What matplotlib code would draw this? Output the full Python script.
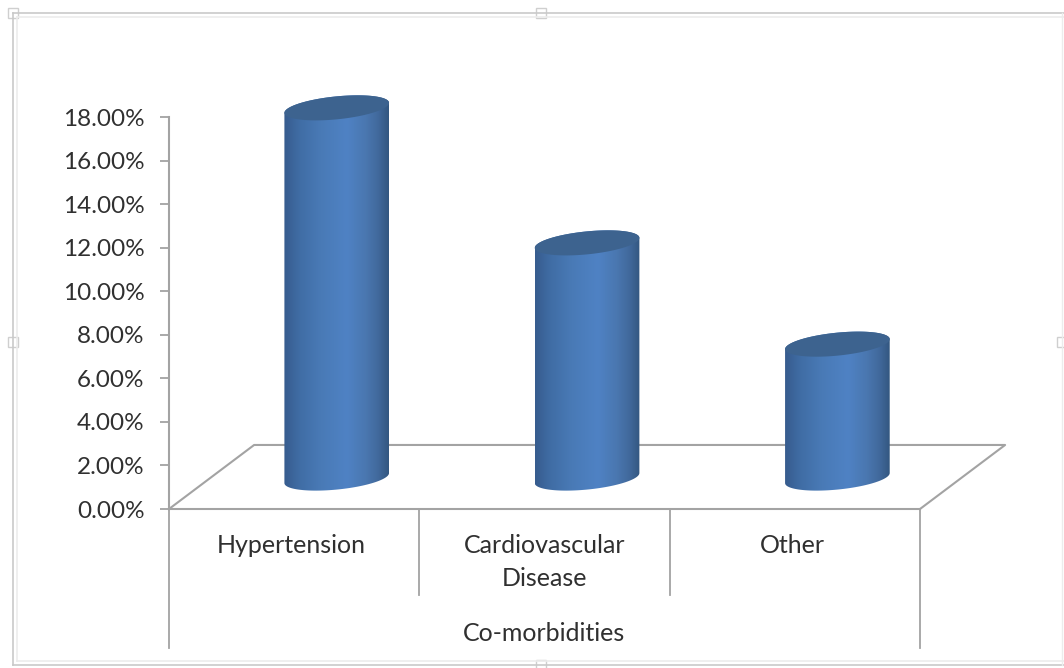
import numpy as np
import matplotlib
matplotlib.use('Agg')
import matplotlib.pyplot as plt
from matplotlib.colors import LinearSegmentedColormap
from matplotlib.lines import Line2D
from matplotlib.patches import PathPatch, Rectangle
from matplotlib.path import Path

# Chart values
categories = ['Hypertension', 'Cardiovascular\nDisease', 'Other']
values = [17.0, 10.8, 6.15]
y_ticks = [0, 2, 4, 6, 8, 10, 12, 14, 16, 18]
y_tick_labels = ['0.00%', '2.00%', '4.00%', '6.00%', '8.00%', '10.00%',
                 '12.00%', '14.00%', '16.00%', '18.00%']
axis_title = 'Co-morbidities'

W, H = 1064, 668
GREY = '#a3a3a3'
TEXT = '#303030'
FS = 18
plt.rcParams['font.family'] = ['Lato', 'DejaVu Sans']

fig = plt.figure(figsize=(W / 100, H / 100), dpi=100)
ax = fig.add_axes([169 / W, 1 - 509 / H, (920 - 169) / W, (509 - 117) / H])
ax.patch.set_alpha(0)

# fake 3d geometry, in data units
depth_x, depth_y = 0.34, 2.94
bar_shift = 0.17      # cylinders sit towards the back of the floor
base_y = 1.42
rx, ry, skew = 0.209, 0.528, 0.23

body_cmap = LinearSegmentedColormap.from_list('body', [
    (0.0, '#375c8e'), (0.15, '#406da5'), (0.35, '#497ab6'), (0.6, '#4f82c4'),
    (0.78, '#4a77b0'), (0.9, '#41699c'), (1.0, '#335780')])


def ellipse(cx, cy, t):
    return cx + rx * np.cos(t), cy + ry * np.sin(t) + skew * np.cos(t)


def draw_cylinder(cx, top):
    # side: round the front of the base, then back over the top rim
    bx, by = ellipse(cx, base_y, np.linspace(np.pi, 2 * np.pi, 60))
    tx, ty = ellipse(cx, base_y + top, np.linspace(0, np.pi, 60))
    verts = np.column_stack([np.r_[bx, tx], np.r_[by, ty]])
    body = PathPatch(Path(np.vstack([verts, verts[:1]]), closed=True),
                     transform=ax.transData, fc='none', ec='none')
    ax.add_patch(body)
    body.set_clip_on(False)
    grad = np.linspace(0, 1, 256).reshape(1, -1)
    im = ax.imshow(grad, cmap=body_cmap, aspect='auto', zorder=3,
                   extent=[cx - rx, cx + rx, base_y - 1, base_y + top + 1])
    im.set_clip_box(fig.bbox)   # the tallest one pokes above the axes
    im.set_clip_path(body)

    cap_x, cap_y = ellipse(cx, base_y + top, np.linspace(0, 2 * np.pi, 120))
    ax.fill(cap_x, cap_y, color='#3d638f', lw=0, zorder=4, clip_on=False)


# floor of the 3d plot
floor_x = [0, depth_x, 3 + depth_x, 3]
floor_y = [0, depth_y, depth_y, 0]
ax.plot(floor_x, floor_y, color=GREY, lw=1.5, clip_on=False, zorder=1)

for i, v in enumerate(values):
    draw_cylinder(i + 0.5 + bar_shift, v)

ax.set_xlim(0, 3)
ax.set_ylim(0, 18)

# category dividers under the axis
for x, low in zip([0, 1, 2, 3], [-6.38, -3.95, -3.95, -6.38]):
    ax.plot([x, x], [0, low], color=GREY, lw=1.3, clip_on=False, zorder=1)

for s in ['top', 'right']:
    ax.spines[s].set_visible(False)
for s in ['left', 'bottom']:
    ax.spines[s].set_color(GREY)
    ax.spines[s].set_linewidth(1.5)
ax.set_xticks([])
ax.set_yticks(y_ticks, labels=y_tick_labels)
ax.tick_params(axis='y', color=GREY, width=1.3, length=6.5, pad=11,
               labelsize=17.5, labelcolor=TEXT)

# labels
for x, lab in zip([0.49, 1.5, 2.49], categories):
    ax.text(x, -1.15, lab, ha='center', va='top', fontsize=FS, color=TEXT,
            linespacing=1.53, clip_on=False)
ax.text(1.5, -5.7, axis_title, ha='center', va='center', fontsize=FS,
        color=TEXT, clip_on=False)


# selection frame around the chart object, in pixels
def px_line(xs, ys, **kw):
    fig.add_artist(Line2D(np.array(xs) / W, 1 - np.array(ys) / H, **kw))


for off, col in [(0, '#c9c9c9'), (4, '#ececec')]:
    px_line([13 + off, 1064], [13 + off, 13 + off], color=col, lw=1.2)
    px_line([13 + off, 13 + off], [13 + off, 665 - off], color=col, lw=1.2)
    px_line([13 + off, 1064], [665 - off, 665 - off], color=col, lw=1.2)
px_line([1062, 1062], [13, 665], color='#ececec', lw=1)

for hx, hy in [(13, 13), (541, 13), (13, 342), (1062, 342), (541, 665)]:
    fig.add_artist(Rectangle(((hx - 5) / W, 1 - (hy + 5) / H), 10 / W, 10 / H,
                             transform=fig.transFigure, fc='white',
                             ec='#cfcfcf', lw=1))

fig.savefig('out.png', dpi=100)
